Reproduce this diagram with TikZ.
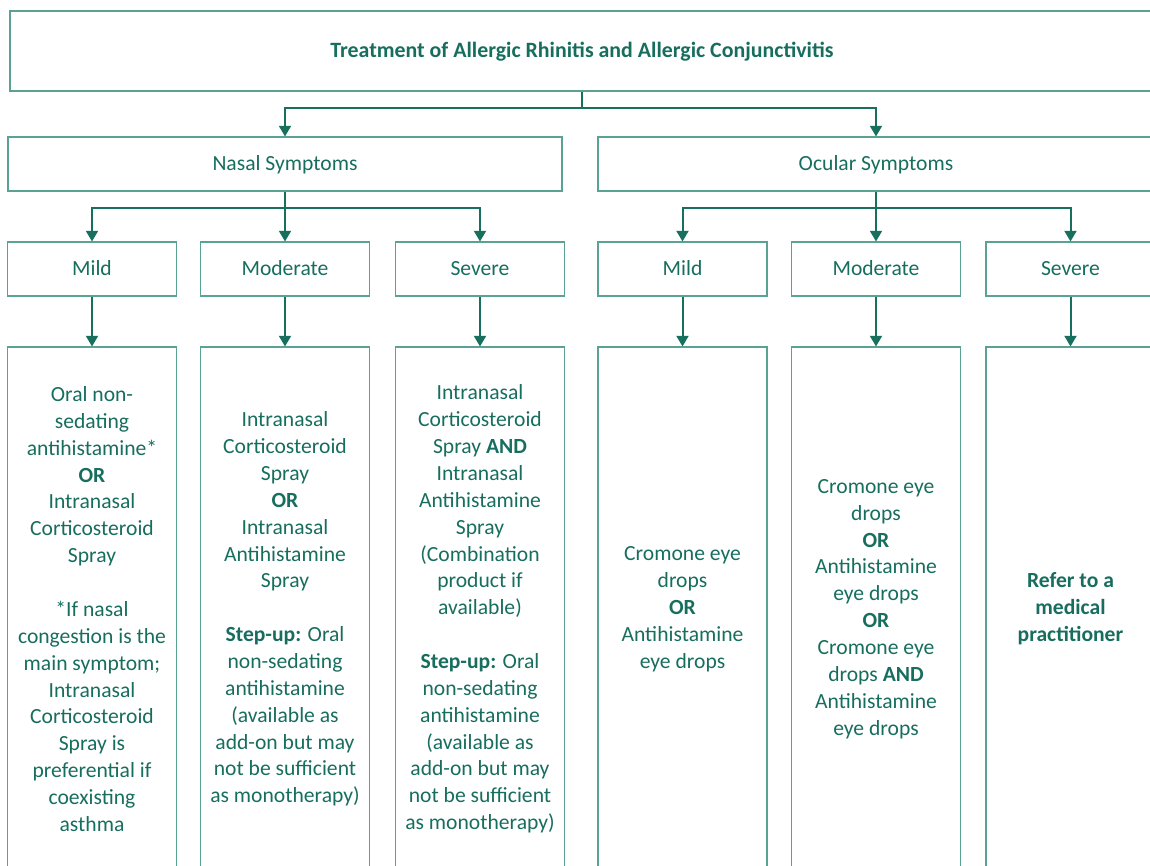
\documentclass[tikz,border=0pt]{standalone}
\usepackage{fontspec}
\setmainfont{Carlito}
\usetikzlibrary{arrows.meta}
\definecolor{txt}{HTML}{176E5E}
\definecolor{arrc}{HTML}{17705E}
\definecolor{boxc}{HTML}{5AA394}
\tikzset{
  box/.style={draw=boxc, line width=0.8pt, text=txt, align=center, inner sep=0pt,
    font=\fontsize{16.2}{20.15}\selectfont},
  onel/.style={text height=10.2pt, text depth=0pt},
  conn/.style={draw=arrc, line width=1.5pt},
  arr/.style={conn, -{Triangle[width=9pt,length=8pt]}},
}
\begin{document}
\begin{tikzpicture}[x=0.75pt,y=-0.75pt]
\useasboundingbox (0,0) rectangle (1150,865);
% title
\node[box, onel, minimum width=1144*0.75pt, minimum height=80*0.75pt,
  font=\bfseries\fontsize{16.4}{20}\selectfont] (title) at (582,51)
  {Treatment of Allergic Rhinitis and Allergic Conjunctivitis};
% level 1
\node[box, onel, minimum width=554*0.75pt, minimum height=54*0.75pt] (nasal) at (285,164) {Nasal Symptoms};
\node[box, onel, minimum width=556*0.75pt, minimum height=54*0.75pt] (ocular) at (876,164) {Ocular Symptoms};
% level 2
\tikzset{lvtwo/.style={box, onel, minimum width=169*0.75pt, minimum height=54*0.75pt},
         lvthree/.style={box, minimum width=169*0.75pt, minimum height=524*0.75pt}}
\node[lvtwo] (nmild) at (92,269) {Mild};
\node[lvtwo] (nmod) at (285,269) {Moderate};
\node[lvtwo] (nsev) at (480,269) {Severe};
\node[lvtwo] (omild) at (682.5,269) {Mild};
\node[lvtwo] (omod) at (876,269) {Moderate};
\node[lvtwo] (osev) at (1070.5,269) {Severe};
% level 3
\node[lvthree] (nmildt) at (92,609) {Oral non-\\sedating\\antihistamine*\\\textbf{OR}\\Intranasal\\Corticosteroid\\Spray\\[20.15pt]*If nasal\\congestion is the\\main symptom;\\Intranasal\\Corticosteroid\\Spray is\\preferential if\\coexisting\\asthma};
\node[lvthree] (nmodt) at (285,609) {Intranasal\\Corticosteroid\\Spray\\\textbf{OR}\\Intranasal\\Antihistamine\\Spray\\[20.15pt]\textbf{Step-up:} Oral\\non-sedating\\antihistamine\\(available as\\add-on but may\\not be sufficient\\as monotherapy)};
\node[lvthree] (nsevt) at (480,609) {Intranasal\\Corticosteroid\\Spray \textbf{AND}\\Intranasal\\Antihistamine\\Spray\\(Combination\\product if\\available)\\[20.15pt]\textbf{Step-up:} Oral\\non-sedating\\antihistamine\\(available as\\add-on but may\\not be sufficient\\as monotherapy)};
\node[lvthree] (omildt) at (682.5,609) {Cromone eye\\drops\\\textbf{OR}\\Antihistamine\\eye drops};
\node[lvthree] (omodt) at (876,609) {Cromone eye\\drops\\\textbf{OR}\\Antihistamine\\eye drops\\\textbf{OR}\\Cromone eye\\drops \textbf{AND}\\Antihistamine\\eye drops};
\node[lvthree] (osevt) at (1070.5,609) {\textbf{Refer to a}\\\textbf{medical}\\\textbf{practitioner}};
% connectors
\coordinate (j1) at (582,108);
\coordinate (j2) at (285,208);
\coordinate (j3) at (876,208);
\draw[conn] (title.south) -- (j1);
\draw[arr] (j1) -| (nasal.north);
\draw[arr] (j1) -| (ocular.north);
\draw[conn] (nasal.south) -- (j2);
\draw[arr] (j2) -| (nmild.north);
\draw[arr] (j2) -- (nmod.north);
\draw[arr] (j2) -| (nsev.north);
\draw[conn] (ocular.south) -- (j3);
\draw[arr] (j3) -| (omild.north);
\draw[arr] (j3) -- (omod.north);
\draw[arr] (j3) -| (osev.north);
\foreach \a in {nmild,nmod,nsev,omild,omod,osev}
  \draw[arr] (\a.south) -- (\a t.north);
\end{tikzpicture}
\end{document}
